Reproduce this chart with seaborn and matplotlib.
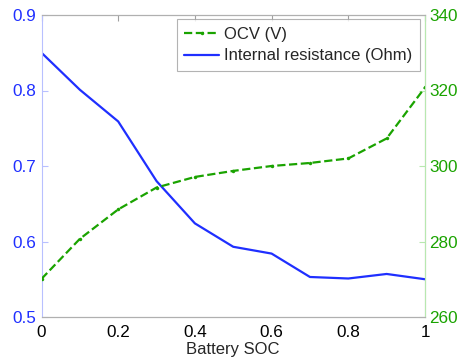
import matplotlib
matplotlib.use("Agg")
import matplotlib.pyplot as plt
import seaborn as sns
import pandas as pd

soc = [0.0, 0.1, 0.2, 0.3, 0.4, 0.5, 0.6, 0.7, 0.8, 0.9, 1.0]
resistance = [0.850, 0.801, 0.759, 0.680, 0.624, 0.593, 0.584, 0.553, 0.551, 0.557, 0.550]
ocv = [270.1, 280.7, 288.5, 294.3, 297.1, 298.7, 300.0, 300.8, 302.0, 307.3, 320.8]

left_ticks = [0.5, 0.6, 0.7, 0.8, 0.9]
right_ticks = [260, 280, 300, 320, 340]
x_ticks = [0, 0.2, 0.4, 0.6, 0.8, 1]
x_ticklabels = ["0", "0.2", "0.4", "0.6", "0.8", "1"]

sns.set_style("white")
plt.rcParams['font.family'] = ['Liberation Sans', 'DejaVu Sans']
plt.rcParams['font.size'] = 10.5

BLUE = "#1f2fff"
GREEN = "#1aa300"

df = pd.DataFrame({"soc": soc, "res": resistance, "ocv": ocv})

fig = plt.figure(figsize=(4.62, 3.59), dpi=100)
ax = fig.add_axes([41.5/462, 1 - 317/359, (425 - 41.5)/462, (317 - 15)/359])
ax2 = ax.twinx()

sns.lineplot(data=df, x="soc", y="res", ax=ax, color=BLUE, linewidth=1.6,
             label="Internal resistance (Ohm)", legend=False)
sns.lineplot(data=df, x="soc", y="ocv", ax=ax2, color=GREEN, linewidth=1.6,
             linestyle="--", marker="o", markersize=2.5, markeredgewidth=0,
             label="OCV (V)", legend=False)

ax.set_xlim(0, 1)
ax.set_ylim(0.5, 0.9)
ax2.set_ylim(260, 340)
ax.set_xticks(x_ticks)
ax.set_xticklabels(x_ticklabels)
ax.set_yticks(left_ticks)
ax.set_yticklabels([f"{v:g}" for v in left_ticks])
ax2.set_yticks(right_ticks)
ax.set_xlabel("Battery SOC", labelpad=1)
ax.set_ylabel("")
ax2.set_ylabel("")

for a in (ax, ax2):
    for s in a.spines.values():
        s.set_color("#b0b0b0")
        s.set_linewidth(0.8)
ax.spines["left"].set_color("#b8c0ff")
ax2.spines["right"].set_color("#b8e8b0")
ax2.spines["left"].set_visible(False)

ax.tick_params(axis="x", direction="in", length=4, color="#a0a0a0", labelsize=12.3, labelcolor="black", pad=6)
ax.tick_params(axis="y", direction="in", length=4, color="#b8c0ff", labelsize=12.3, labelcolor=BLUE, pad=4)
ax2.tick_params(axis="y", direction="in", length=4, color="#b8e8b0", labelsize=12.3, labelcolor=GREEN, pad=3)
ax.tick_params(axis="x", top=True, direction="in")
ax.xaxis.label.set_size(12)

h1, l1 = ax2.get_legend_handles_labels()
h2, l2 = ax.get_legend_handles_labels()
leg = ax2.legend(h1 + h2, l1 + l2, loc="upper right", bbox_to_anchor=(0.987, 0.986),
                 fancybox=False, frameon=True, edgecolor="#a0a0a0", fontsize=12,
                 borderpad=0.45, handlelength=2.1, handletextpad=0.3, labelspacing=0.4,
                 borderaxespad=0.0)
leg.get_frame().set_linewidth(0.8)

fig.savefig("out.png", dpi=100)
